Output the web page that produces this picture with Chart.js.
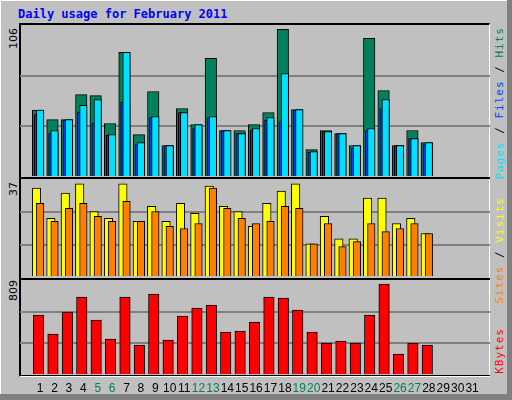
<!DOCTYPE html>
<html>
<head>
<meta charset="utf-8">
<script src="https://cdn.jsdelivr.net/npm/chart.js@4/dist/chart.umd.min.js"></script>
<style>
  body { margin: 0; width: 512px; height: 400px; background: #c0c0c0; position: relative; overflow: hidden; font-family: "DejaVu Sans", sans-serif; }
  .abs { position: absolute; }
  #title { left: 18px; top: 7px; color: #0000ff; font: bold 12px "DejaVu Sans Mono", monospace; }
  .ylab { font-size: 11px; color: #000; transform: rotate(-90deg); transform-origin: left top; white-space: nowrap; }
  .rlab { font: 11px "DejaVu Sans Mono", monospace; letter-spacing: 1px; writing-mode: vertical-rl; transform: rotate(180deg); white-space: nowrap; }
  .line { background: #000; }
</style>
</head>
<body>
<div class="abs" style="left:0;top:0;width:507px;height:394px;border-top:1px solid #fff;border-left:1px solid #fff;box-sizing:border-box"></div>
<div class="abs" style="left:507px;top:0;width:5px;height:400px;background:#808080"></div>
<div class="abs" style="left:0;top:394px;width:512px;height:6px;background:#808080"></div>
<div id="title" class="abs">Daily usage for February 2011</div>

<div class="abs" style="left:19px;top:23px;width:471px;height:354px;border-top:2px solid #000;border-left:2px solid #000;border-right:1px solid #fff;border-bottom:2px solid #fff;box-sizing:border-box"></div>
<div class="abs line" style="left:20px;top:177px;width:470px;height:2px"></div>
<div class="abs line" style="left:20px;top:278px;width:470px;height:2px"></div>
<div class="abs line" style="left:20px;top:375px;width:470px;height:1px"></div>

<div class="abs" style="left:20px;top:25px;width:470px;height:152px"><canvas id="c1"></canvas></div>
<div class="abs" style="left:20px;top:180px;width:470px;height:97px"><canvas id="c2"></canvas></div>
<div class="abs" style="left:20px;top:280px;width:470px;height:117px"><canvas id="c3"></canvas></div>

<div class="abs ylab" style="left:7px;top:49px">106</div>
<div class="abs ylab" style="left:7px;top:196px">37</div>
<div class="abs ylab" style="left:7px;top:301px">809</div>

<div class="abs rlab" style="left:493px;top:27px"><span style="color:#00e0ff">Pages</span> / <span style="color:#0040ff">Files</span> / <span style="color:#00805c">Hits</span></div>
<div class="abs rlab" style="left:493px;top:197px"><span style="color:#ff8000">Sites</span> / <span style="color:#ffff00">Visits</span></div>
<div class="abs rlab" style="left:493px;top:328px"><span style="color:#ff0000">KBytes</span></div>

<script>
const days = Array.from({ length: 31 }, (_, i) => i + 1);
const weekend = [5, 6, 12, 13, 19, 20, 26, 27];
const hits   = [46.6, 40, 40, 57.5, 56.8, 37.3, 86.9, 29.6, 59.6, 21.9, 47.8, 36.6, 82.7, 32.4, 32.4, 36.6, 45, 103, 47.1, 19.1, 32.4, 30.3, 21.9, 96.7, 60.3, 21.9, 32.4, 24];
const files  = [43.6, 30.3, 39.6, 45.2, 37.5, 29.1, 52.2, 22.6, 41.5, 21.9, 45, 33.8, 41.5, 32.4, 30.3, 32.4, 39.6, 38.7, 46.6, 17.2, 31.7, 30.3, 20, 32.4, 47.8, 21.9, 26.8, 22.6];
const pages  = [46.6, 32.4, 40, 49.9, 54, 29.6, 86.9, 24, 42.2, 21.9, 45, 36.6, 42.2, 32.4, 30.3, 33.8, 41.5, 72.2, 47.1, 17.7, 31.7, 30.3, 21.9, 33.8, 54, 21.9, 26.8, 24];
const visits = [33.9, 22.4, 32, 35.5, 25, 22.4, 35.5, 21.2, 27, 21.2, 28.1, 24.3, 34.7, 27, 25, 19.3, 28.1, 32.8, 35.5, 12.7, 23.1, 14.6, 14.6, 30.1, 30.1, 20.4, 22.4, 16.6];
const sites  = [28.1, 21.2, 26.2, 28.1, 23.1, 21.2, 28.9, 21.2, 25, 19.3, 18.5, 20.4, 33.9, 26.2, 22.4, 20.4, 21.2, 27, 26.2, 12.7, 20.4, 11.6, 13.5, 20.4, 17.3, 18.5, 20.4, 16.6];
const kbytes = [511, 349, 536, 664, 468, 306, 664, 255, 690, 298, 502, 570, 596, 366, 375, 451, 664, 656, 553, 366, 272, 289, 272, 511, 775, 179, 272, 255];

const xMin = 0.126, xMax = 31.72;

function pts(values, shift) {
  return values.map((v, i) => ({ x: days[i] + shift, y: v }));
}

function bars(label, values, shift, color, width, order) {
  return {
    label, data: pts(values, shift), backgroundColor: color,
    borderColor: '#000', borderWidth: 1, barThickness: width, grouped: false, order
  };
}

function buildPanel(id, datasets, max, showDays) {
  new Chart(document.getElementById(id), {
    type: 'bar',
    data: { datasets },
    options: {
      animation: false,
      responsive: true,
      maintainAspectRatio: false,
      layout: { padding: 0 },
      plugins: { legend: { display: false }, tooltip: { enabled: false } },
      scales: {
        x: {
          type: 'linear', min: xMin, max: xMax,
          afterBuildTicks: scale => { scale.ticks = days.map(d => ({ value: d })); },
          afterFit: scale => { scale.paddingLeft = 0; scale.paddingRight = 0; if (!showDays) scale.height = 0; else scale.height = 22; },
          grid: { display: false, drawTicks: false },
          border: { display: false },
          ticks: {
            display: showDays, autoSkip: false, maxRotation: 0, padding: 6,
            font: { size: 12, family: 'Liberation Sans' },
            color: ctx => weekend.includes(ctx.tick.value) ? '#00805c' : '#000',
            callback: v => v
          }
        },
        y: {
          min: 0, max,
          afterBuildTicks: scale => { scale.ticks = [0, max / 3, 2 * max / 3, max].map(v => ({ value: v })); },
          afterFit: scale => { scale.width = 0; },
          ticks: { display: false, padding: 0 },
          border: { display: false },
          grid: {
            drawTicks: false, lineWidth: 2,
            color: ctx => (ctx.index === 1 || ctx.index === 2) ? '#808080' : 'rgba(0,0,0,0)'
          }
        }
      }
    }
  });
}

buildPanel('c1', [
  bars('Hits', hits, -0.145, '#00805c', 11.5, 3),
  bars('Files', files, -0.08, '#0040ff', 9.5, 2),
  bars('Pages', pages, 0, '#00e0ff', 7.5, 1)
], 106, false);

buildPanel('c2', [
  bars('Visits', visits, -0.255, '#ffff00', 8.5, 2),
  bars('Sites', sites, 0, '#ff8000', 7.5, 1)
], 37, false);

buildPanel('c3', [
  bars('KBytes', kbytes, -0.11, '#ff0000', 10.5, 1)
], 809, true);
</script>
</body>
</html>
